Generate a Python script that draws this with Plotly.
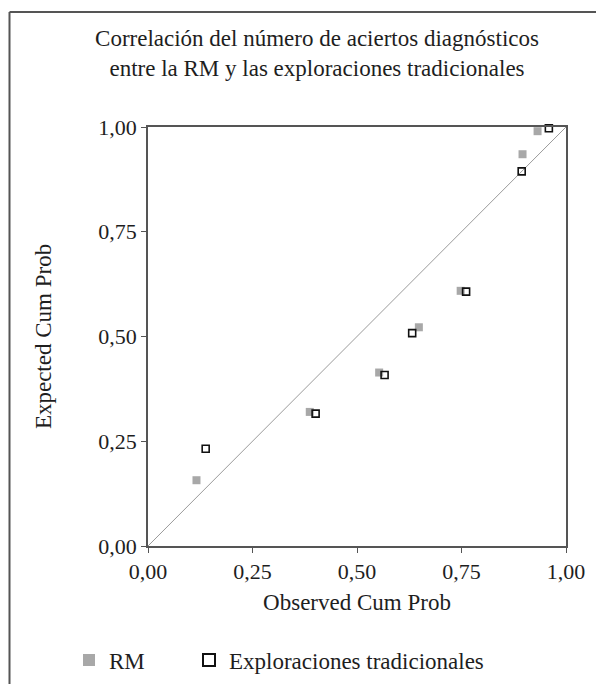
import plotly.graph_objects as go

# ---- data ----
rm_observed = [0.116, 0.387, 0.553, 0.648, 0.748, 0.896, 0.932]
rm_expected = [0.157, 0.320, 0.414, 0.522, 0.609, 0.935, 0.990]
trad_observed = [0.138, 0.401, 0.566, 0.632, 0.761, 0.894, 0.959]
trad_expected = [0.232, 0.316, 0.408, 0.508, 0.607, 0.894, 0.997]
ref_line = [0.0, 1.0]
tick_vals = [0.0, 0.25, 0.5, 0.75, 1.0]
tick_text = ["0,00", "0,25", "0,50", "0,75", "1,00"]

title_text = ("Correlación del número de aciertos diagnósticos<br>"
              "entre la RM y las exploraciones tradicionales")

# the page body has an 8px margin, so the figure is laid out 8px in
W, H = 596, 676
L, R, T, B = 140, 558, 119, 538  # plot area in figure pixels


def px_x(p):
    return (p - L) / (R - L)


def px_y(p):
    return (B - p) / (B - T)


FONT = "Liberation Serif, Times New Roman, serif"
FS = 23
FS_TICK = 22
TXT = "#1e1e1e"
AX = "#555555"

fig = go.Figure()
fig.add_trace(go.Scatter(x=ref_line, y=ref_line, mode="lines",
                         line=dict(color="#9a9a9a", width=1),
                         showlegend=False, hoverinfo="skip"))
fig.add_trace(go.Scatter(x=rm_observed, y=rm_expected, mode="markers", name="RM",
                         marker=dict(symbol="square", size=8, color="#a8a8a8",
                                     line=dict(width=0)),
                         legend="legend", cliponaxis=False))
fig.add_trace(go.Scatter(x=trad_observed, y=trad_expected, mode="markers",
                         name="Exploraciones tradicionales",
                         marker=dict(symbol="square-open", size=7, color="#111111",
                                     line=dict(width=1.6, color="#111111")),
                         legend="legend2", cliponaxis=False))

axis_common = dict(range=[0, 1], tickvals=tick_vals, ticktext=tick_text,
                   showgrid=False, zeroline=False, showline=True, mirror=True,
                   linecolor=AX, linewidth=1.5, ticks="outside", ticklen=5,
                   tickcolor=AX, tickwidth=1.2,
                   tickfont=dict(family=FONT, size=FS_TICK, color=TXT))

legend_common = dict(orientation="h", xanchor="left", yanchor="middle",
                     itemsizing="constant", bgcolor="rgba(0,0,0,0)",
                     font=dict(family=FONT, size=FS, color=TXT))

fig.update_layout(
    width=W, height=H,
    margin=dict(l=L, r=W - R, t=T, b=H - B, autoexpand=False),
    paper_bgcolor="white", plot_bgcolor="white",
    font=dict(family=FONT, size=FS, color=TXT),
    title=dict(text=title_text, x=309 / W, xanchor="center", xref="container",
               y=1 - 38 / H, yanchor="top", yref="container",
               font=dict(family=FONT, size=FS, color=TXT)),
    xaxis=dict(**axis_common,
               title=dict(text="Observed Cum Prob", standoff=11,
                          font=dict(family=FONT, size=FS, color=TXT))),
    yaxis=dict(**axis_common,
               title=dict(text="Expected Cum Prob", standoff=40,
                          font=dict(family=FONT, size=FS, color=TXT))),
    legend=dict(**legend_common, x=px_x(61), y=px_y(652)),
    legend2=dict(**legend_common, x=px_x(181), y=px_y(652)),
    showlegend=True,
)

# outer frame (open at right and bottom, as in the reference)
fig.add_shape(type="line", xref="paper", yref="paper",
              x0=px_x(1.5), x1=px_x(W + 2), y0=px_y(4), y1=px_y(4),
              line=dict(color="#555555", width=2))
fig.add_shape(type="line", xref="paper", yref="paper",
              x0=px_x(1.5), x1=px_x(1.5), y0=px_y(4), y1=px_y(H + 2),
              line=dict(color="#555555", width=2))

fig.write_html("out.html")
